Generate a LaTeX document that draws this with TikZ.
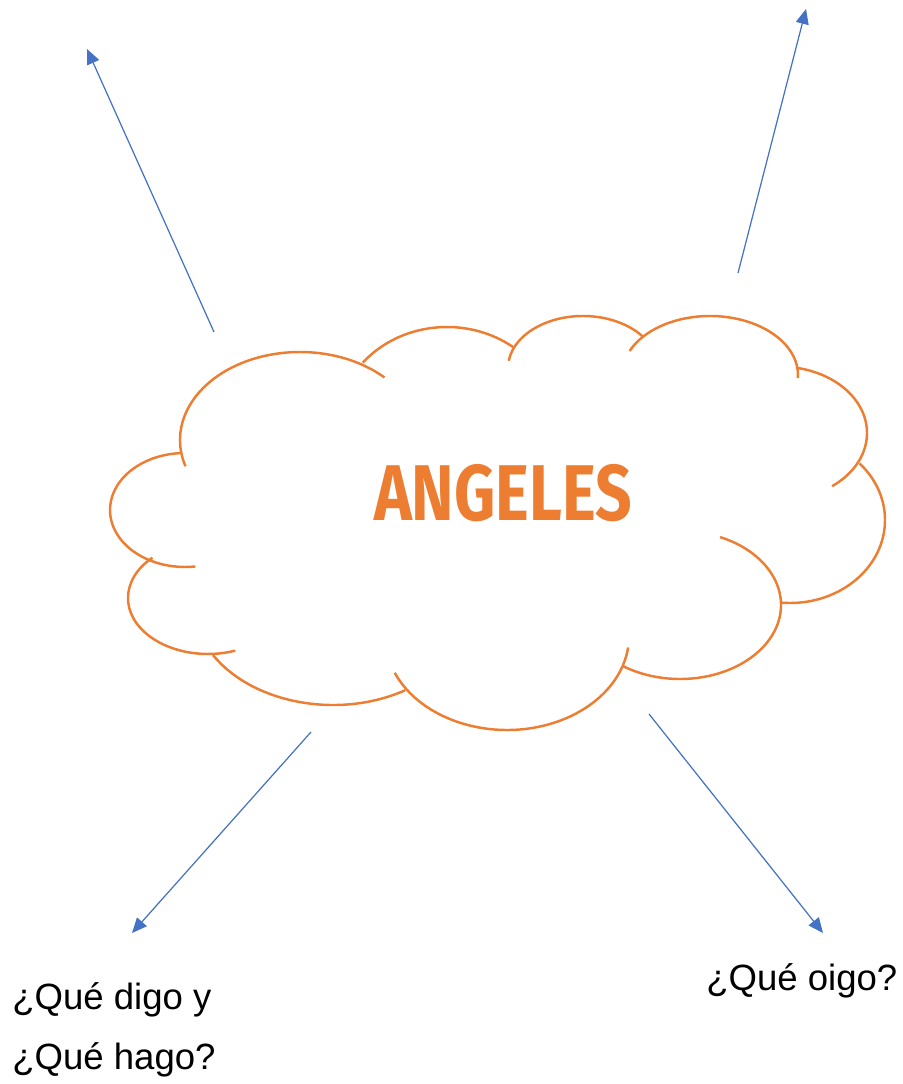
\documentclass[tikz,border=0pt]{standalone}
\usepackage{fontspec}
\setmainfont{Liberation Sans}
\newfontfamily\brushfont{Fira Sans}
\usetikzlibrary{arrows.meta}
\definecolor{cloudorange}{HTML}{ED7D31}
\definecolor{arrowblue}{HTML}{4472C4}

\begin{document}
\begin{tikzpicture}[x=0.02cm, y=-0.02cm,
  cloudline/.style={draw=cloudorange, line width=1.4pt},
  pointer/.style={-{Triangle[length=0.3cm, width=0.26cm]}, draw=arrowblue, line width=0.7pt},
  question/.style={anchor=base west, inner sep=0pt, font=\fontsize{20.8}{25}\selectfont}]
  \useasboundingbox (0,0) rectangle (902,1084);

  % cloud bumps: centre x/y, radii, start and end angle
  \foreach \cx/\cy/\rx/\ry/\ta/\tb in {
      300/440/120/88/162.7/314.7,
      185/510/75/57/267/82,
      208/598/80/56/226/70,
      333/602/140/103/149/59,
      507/636/122/94/157/7,
      680/605/101/74/-66.6/124.4,
      790/520/95/83/96/-43,
      780/433/87/66.4/53.2/-78,
      710/375/88/59/204/363,
      583/368/75/52/188/324,
      447/427/110/100/220/307}
    \draw[cloudline] ({\cx+\rx*cos(\ta)},{\cy+\ry*sin(\ta)}) arc[start angle=\ta, end angle=\tb, x radius=\rx, y radius=\ry];

  \node[anchor=base, inner sep=0pt, text=cloudorange, font=\brushfont\bfseries\fontsize{45}{50}\selectfont] (angeles) at (503,520) {\scalebox{0.81}[1]{ANGELES}};

  \node[question] (saydo) at (12,1009) {¿Qué digo y};
  \node[question] (dohow) at (12,1069) {¿Qué hago?};
  \node[question] (hear) at (706,990) {¿Qué oigo?};

  \coordinate (ulstart) at (214,332);
  \coordinate (ulend) at (87,49);
  \coordinate (urstart) at (738,273);
  \coordinate (urend) at (806,9);
  \coordinate (llstart) at (311,732);
  \coordinate (llend) at (132,933);
  \coordinate (lrstart) at (649,714);
  \coordinate (lrend) at (823,933);

  \draw[pointer] (ulstart) -- (ulend);
  \draw[pointer] (urstart) -- (urend);
  \draw[pointer] (llstart) -- (llend);
  \draw[pointer] (lrstart) -- (lrend);
\end{tikzpicture}
\end{document}
